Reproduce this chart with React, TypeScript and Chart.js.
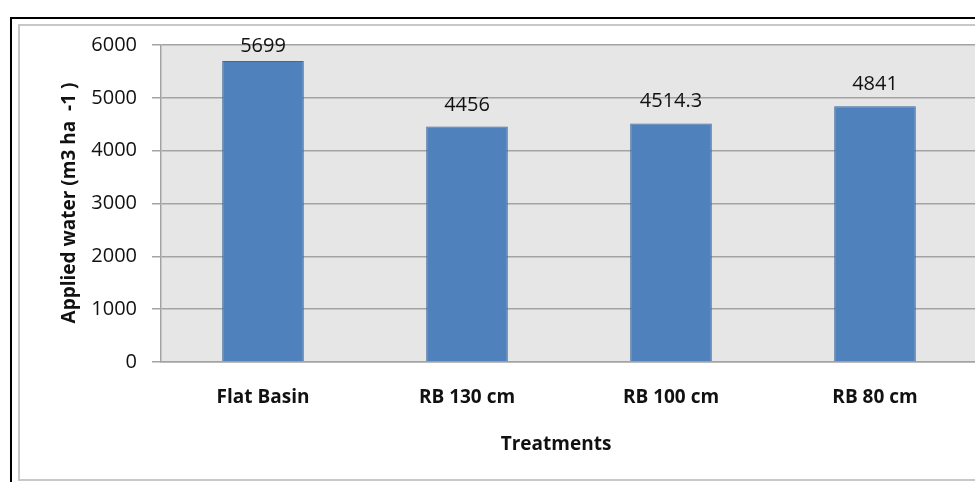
import React, { useEffect, useRef } from "react";
import { Chart, registerables } from "chart.js";

Chart.register(...registerables);

const categories = ["Flat Basin", "RB 130 cm", "RB 100 cm", "RB 80 cm"];
const appliedWater = [5699, 4456, 4514.3, 4841];
const valueLabels = ["5699", "4456", "4514.3", "4841"];
const yMin = 0;
const yMax = 6000;
const yStep = 1000;
const yAxisTitle = "Applied water (m3 ha  -1 )";
const xAxisTitle = "Treatments";

const FONT = "'Open Sans', 'Noto Sans', sans-serif";
const TEXT = "#111111";
const GRID = "#a3a3a3";

const decorPlugin = {
  id: "decor",
  beforeDraw(chart: any) {
    const { ctx, chartArea, width, height } = chart;
    ctx.save();
    ctx.fillStyle = "#ffffff";
    ctx.fillRect(0, 0, width, height);
    // outer black frame
    ctx.strokeStyle = "#000000";
    ctx.lineWidth = 2;
    ctx.strokeRect(11, 18, width + 50, height + 50);
    // inner light frame
    ctx.strokeStyle = "#c8c8c8";
    ctx.lineWidth = 2;
    ctx.strokeRect(19, 25, width + 50, 455);
    // plot background
    ctx.fillStyle = "#e6e6e6";
    ctx.fillRect(chartArea.left, chartArea.top, chartArea.right - chartArea.left, chartArea.bottom - chartArea.top);
    ctx.restore();
  },
  afterDatasetsDraw(chart: any) {
    const { ctx, chartArea } = chart;
    const meta = chart.getDatasetMeta(0);
    ctx.save();
    ctx.font = `20px ${FONT}`;
    ctx.fillStyle = TEXT;
    ctx.textAlign = "center";
    ctx.textBaseline = "alphabetic";
    meta.data.forEach((el: any, i: number) => {
      const base = Math.max(el.y - 16, chartArea.top + 7);
      ctx.fillText(valueLabels[i], el.x, base);
    });
    // axis titles
    ctx.font = `bold 19px ${FONT}`;
    ctx.textBaseline = "middle";
    ctx.save();
    ctx.translate(70, 203);
    ctx.rotate(-Math.PI / 2);
    ctx.fillText(yAxisTitle, 0, 0);
    ctx.restore();
    ctx.font = `bold 19px ${FONT}`;
    ctx.fillText(xAxisTitle, 556, 445);
    ctx.restore();
  },
};

export default function App() {
  const ref = useRef<HTMLCanvasElement | null>(null);
  useEffect(() => {
    if (!ref.current) return;
    const chart = new Chart(ref.current, {
      type: "bar",
      data: {
        labels: categories,
        datasets: [
          {
            data: appliedWater,
            backgroundColor: "#4f81bd",
            borderColor: "#41699a",
            borderWidth: 1,
            barPercentage: 0.8,
            categoryPercentage: 0.5,
          },
        ],
      },
      options: {
        responsive: false,
        animation: false,
        devicePixelRatio: 1,
        layout: { padding: { left: 0, top: 45, right: 23, bottom: 0 } },
        plugins: { legend: { display: false }, tooltip: { enabled: false }, title: { display: false } },
        scales: {
          x: {
            afterFit: (s: any) => {
              s.height = 120;
            },
            grid: { display: false },
            border: { display: true, color: GRID, width: 1.5 },
            ticks: { color: TEXT, font: { family: FONT, size: 19, weight: "bold" }, padding: 16 },
          },
          y: {
            min: yMin,
            max: yMax,
            afterFit: (s: any) => {
              s.width = 161;
            },
            grid: { color: GRID, lineWidth: 1.5, tickLength: 9, drawTicks: true },
            border: { display: true, color: GRID, width: 1.5 },
            ticks: {
              stepSize: yStep,
              color: TEXT,
              font: { family: FONT, size: 20 },
              padding: 15,
              callback: (v: any) => String(v),
            },
          },
        },
      },
      plugins: [decorPlugin],
    });
    return () => chart.destroy();
  }, []);
  return (
    <div style={{ position: "fixed", left: 0, top: 0, width: 975, height: 482, overflow: "hidden", background: "#fff" }}>
      <canvas ref={ref} width={1000} height={482} style={{ display: "block" }} />
    </div>
  );
}
